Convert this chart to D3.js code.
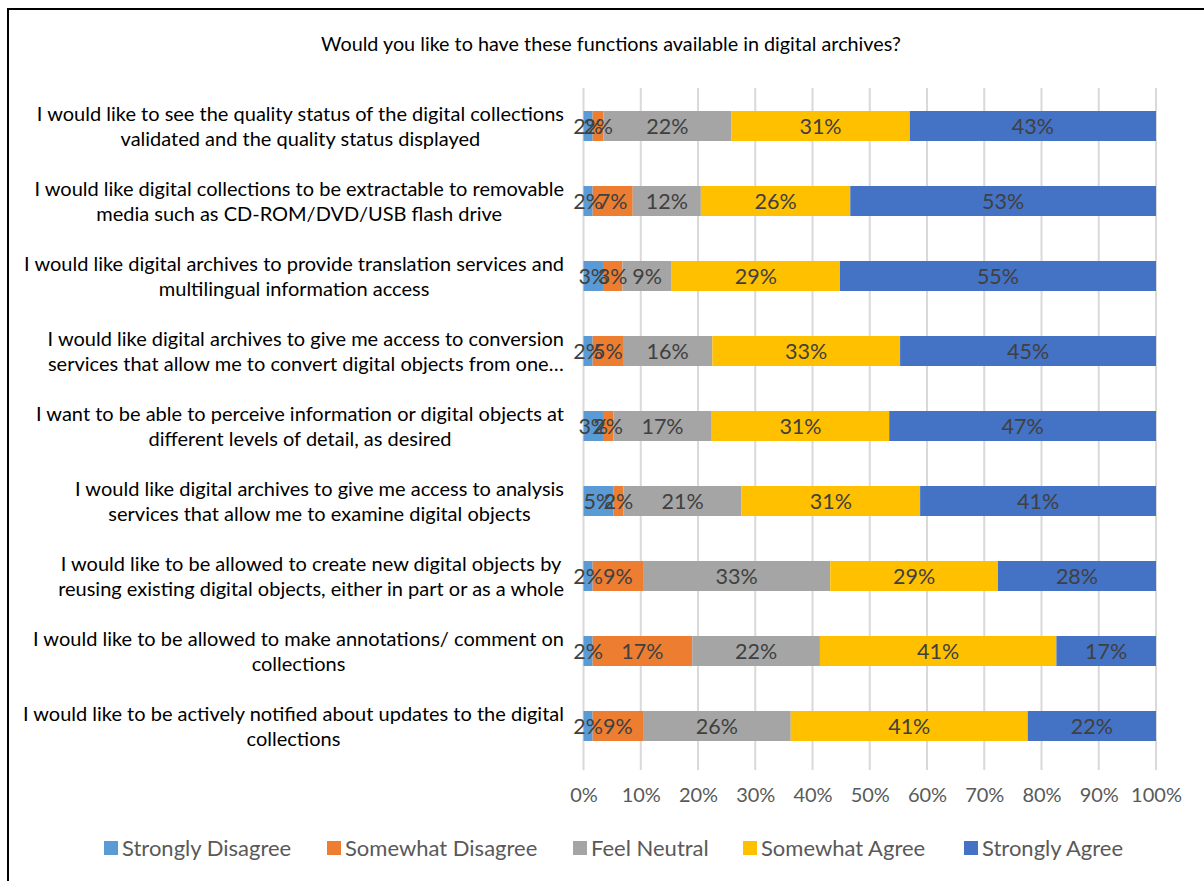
<!DOCTYPE html>
<html>
<head>
<meta charset="utf-8">
<script src="https://cdn.jsdelivr.net/npm/d3@7"></script>
<style>
  html, body { margin: 0; padding: 0; background: #fff; }
  svg { display: block; }
</style>
</head>
<body>
<svg id="chart" width="1204" height="881"></svg>
<script>
// Survey statements (one per bar, top to bottom); "\n" marks a line break
const categories = [
  "I would like to see the quality status of the digital collections\nvalidated and the quality status displayed",
  "I would like digital collections to be extractable to removable\nmedia such as CD-ROM/DVD/USB flash drive",
  "I would like digital archives to provide translation services and\nmultilingual information access",
  "I would like digital archives to give me access to conversion\nservices that allow me to convert digital objects from one…",
  "I want to be able to perceive information or digital objects at\ndifferent levels of detail, as desired",
  "I would like digital archives to give me access to analysis\nservices that allow me to examine digital objects",
  "I would like to be allowed to create new digital objects by\nreusing existing digital objects, either in part or as a whole",
  "I would like to be allowed to make annotations/ comment on\ncollections",
  "I would like to be actively notified about updates to the digital\ncollections"
];

// Response shares (%) for each statement, in the same order
const stronglyDisagree = [1.6, 1.6, 3.4, 1.6, 3.4, 5.2, 1.6, 1.6, 1.6];
const somewhatDisagree = [1.9, 7.0, 3.4, 5.3, 1.8, 1.8, 8.8, 17.4, 8.8];
const feelNeutral      = [22.3, 11.9, 8.6, 15.6, 17.2, 20.6, 32.7, 22.3, 25.8];
const somewhatAgree    = [31.2, 26.1, 29.4, 32.8, 31.0, 31.2, 29.3, 41.3, 41.4];
const stronglyAgree    = [43.0, 53.4, 55.2, 44.7, 46.6, 41.2, 27.6, 17.4, 22.4];

const seriesNames = ["Strongly Disagree", "Somewhat Disagree", "Feel Neutral", "Somewhat Agree", "Strongly Agree"];
const seriesColors = ["#5B9BD5", "#ED7D31", "#A5A5A5", "#FFC000", "#4472C4"];
const tickValues = [0, 10, 20, 30, 40, 50, 60, 70, 80, 90, 100];
const title = "Would you like to have these functions available in digital archives?";

const seriesValues = [stronglyDisagree, somewhatDisagree, feelNeutral, somewhatAgree, stronglyAgree];

// Build a row table for d3.stack
const rows = categories.map((c, i) => {
  const r = { category: c };
  seriesNames.forEach((s, k) => { r[s] = seriesValues[k][i]; });
  return r;
});
const stacked = d3.stack().keys(seriesNames)(rows);

const FONT = "Lato, 'Open Sans', sans-serif";
const svg = d3.select("#chart");

// Chart frame
svg.append("rect")
  .attr("x", 8).attr("y", 9).attr("width", 1220).attr("height", 900)
  .attr("fill", "#fff").attr("stroke", "#000").attr("stroke-width", 2);

// Title
svg.append("text")
  .attr("x", 611).attr("y", 51)
  .attr("text-anchor", "middle")
  .attr("font-family", FONT).attr("font-size", 19.8)
  .attr("fill", "#000")
  .text(title);

const x = d3.scaleLinear().domain([0, 100]).range([583.5, 1156]);
const y = d3.scaleBand().domain(categories).range([88.5, 763.5])
  .paddingInner(0.6).paddingOuter(0.3);

// Vertical gridlines
svg.append("g")
  .selectAll("line")
  .data(tickValues)
  .join("line")
  .attr("x1", d => x(d)).attr("x2", d => x(d))
  .attr("y1", 88).attr("y2", 770)
  .attr("stroke", "#D9D9D9").attr("stroke-width", 2);

// X axis tick labels
const xAxis = d3.axisBottom(x).tickValues(tickValues).tickFormat(d => d + "%").tickSize(0).tickPadding(0);
const gx = svg.append("g").attr("transform", "translate(0,788)").call(xAxis);
gx.select(".domain").remove();
gx.selectAll("text")
  .attr("font-family", FONT).attr("font-size", 20)
  .attr("fill", "#595959").attr("dy", "0.71em");

// Stacked bars
const layers = svg.append("g").selectAll("g")
  .data(stacked)
  .join("g")
  .attr("fill", (d, i) => seriesColors[i]);

layers.selectAll("rect")
  .data(d => d.map(p => ({ p, key: d.key })))
  .join("rect")
  .attr("x", d => x(d.p[0]))
  .attr("y", d => y(d.p.data.category))
  .attr("width", d => x(d.p[1]) - x(d.p[0]))
  .attr("height", y.bandwidth());

// Value labels centred in each segment
const labelLayer = svg.append("g");
stacked.forEach(layer => {
  labelLayer.selectAll(null)
    .data(layer)
    .join("text")
    .attr("x", p => (x(p[0]) + x(p[1])) / 2)
    .attr("y", p => y(p.data.category) + y.bandwidth() / 2)
    .attr("dy", "0.36em")
    .attr("text-anchor", "middle")
    .attr("font-family", FONT).attr("font-size", 21.5)
    .attr("fill", "#404040")
    .text(p => d3.format(".0f")(p[1] - p[0]) + "%");
});

// Category labels: block right-aligned to the axis, each line centred in the block
const labelRight = 564;
const catG = svg.append("g");
categories.forEach(c => {
  const lines = c.split("\n");
  const cy = y(c) + y.bandwidth() / 2;
  const lineH = 25;
  const t = catG.append("text")
    .attr("font-family", FONT).attr("font-size", 20)
    .attr("fill", "#000")
    .attr("text-anchor", "middle");
  const spans = lines.map((ln, i) =>
    t.append("tspan")
      .attr("y", cy + (i - (lines.length - 1) / 2) * lineH)
      .attr("dy", "0.36em")
      .text(ln));
  const maxW = d3.max(spans, s => s.node().getComputedTextLength());
  spans.forEach(s => s.attr("x", labelRight - maxW / 2));
});

// Legend
const legendItems = [
  { name: seriesNames[0], sx: 104 },
  { name: seriesNames[1], sx: 327 },
  { name: seriesNames[2], sx: 573 },
  { name: seriesNames[3], sx: 743 },
  { name: seriesNames[4], sx: 964 }
];
const lg = svg.append("g").selectAll("g")
  .data(legendItems)
  .join("g")
  .attr("transform", d => `translate(${d.sx},848)`);
lg.append("rect")
  .attr("x", 0).attr("y", -7).attr("width", 14).attr("height", 14)
  .attr("fill", (d, i) => seriesColors[i]);
lg.append("text")
  .attr("x", 18).attr("y", 0).attr("dy", "0.36em")
  .attr("font-family", FONT).attr("font-size", 22)
  .attr("fill", "#595959")
  .text(d => d.name);
</script>
</body>
</html>
